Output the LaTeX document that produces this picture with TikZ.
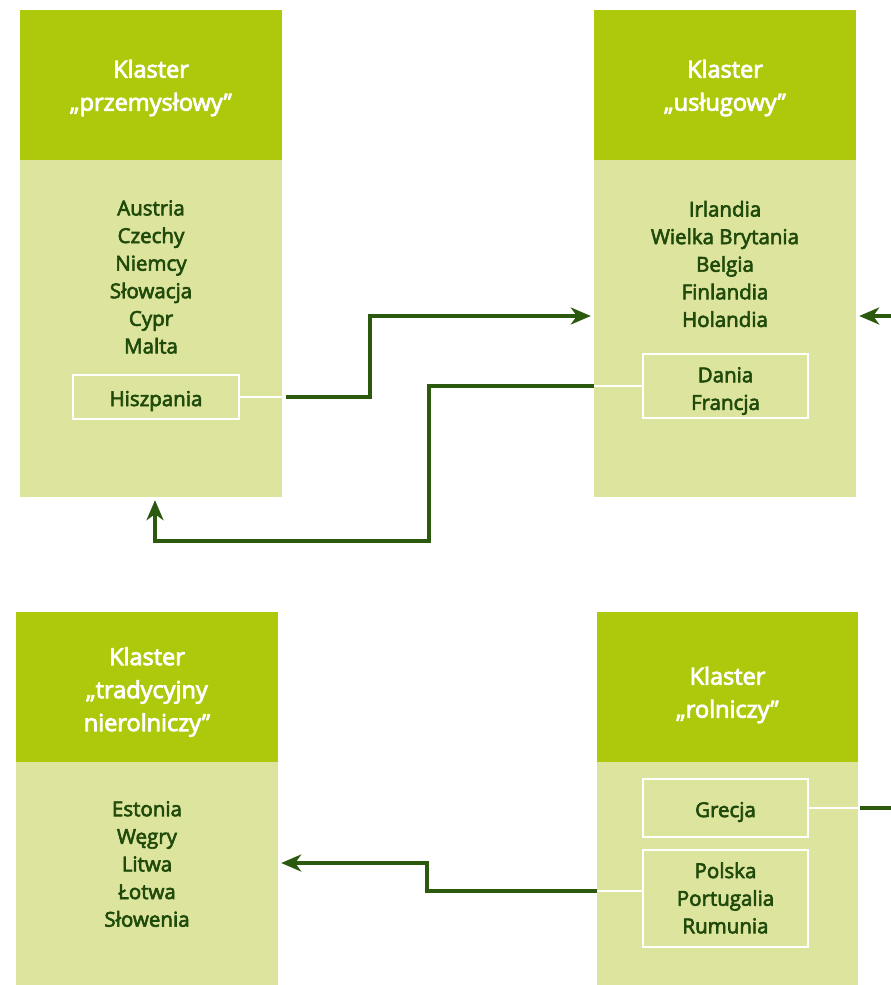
\documentclass[tikz,border=0pt]{standalone}
\usepackage{fontspec}
\setmainfont{Open Sans}
\newfontfamily\hdrfont[FakeBold=3.5]{Open Sans}
\newfontfamily\lstfont[FakeBold=3]{Open Sans}
\usetikzlibrary{arrows.meta}
\definecolor{hdr}{HTML}{AEC90B}
\definecolor{bodyc}{HTML}{DCE49E}
\definecolor{txt}{HTML}{1F4A0A}
\definecolor{arr}{HTML}{2B5A0E}
\begin{document}
\begin{tikzpicture}[x=1pt,y=-1pt,
  hdrbox/.style={fill=hdr, minimum width=262pt, minimum height=150pt, inner sep=0pt},
  hdrtxt/.style={text=white, font=\hdrfont\fontsize{23.5}{33}\selectfont, align=center, inner sep=0pt},
  bodybox/.style={fill=bodyc, minimum width=262pt, inner sep=0pt},
  listtxt/.style={text=txt, font=\lstfont\fontsize{20.5}{27.6}\selectfont, align=center, inner sep=0pt},
  subbox/.style={draw=white, line width=2pt, minimum width=166pt, inner sep=0pt},
  wline/.style={white, line width=2pt},
  connbase/.style={arr, line width=3.2pt},
  conn/.style={connbase, -{Stealth[length=20pt,width=17pt,inset=6pt]}, shorten >=3pt}]
\useasboundingbox (0,0) rectangle (891,985);
\fill[white] (0,0) rectangle (891,985);

% top-left cluster
\node[hdrbox] (h1) at (151,85) {};
\node[hdrtxt] (t1) at (151,88) {Klaster\\„przemysłowy”};
\node[bodybox, minimum height=337pt] (b1) at (151,328.5) {};
\node[listtxt] (l1) at (151,277) {Austria\\Czechy\\Niemcy\\Słowacja\\Cypr\\Malta};
\node[subbox, minimum height=44pt] (hisz) at (156,397) {};
\node[listtxt] (thisz) at (156,401) {Hiszpania};

% top-right cluster
\node[hdrbox] (h2) at (725,85) {};
\node[hdrtxt] (t2) at (725,88) {Klaster\\„usługowy”};
\node[bodybox, minimum height=337pt] (b2) at (725,328.5) {};
\node[listtxt] (l2) at (725,264) {Irlandia\\Wielka Brytania\\Belgia\\Finlandia\\Holandia};
\node[subbox, minimum width=165pt, minimum height=64pt] (dan) at (725.5,386) {};
\node[listtxt] (tdan) at (725.5,391) {Dania\\Francja};

% bottom-left cluster
\node[hdrbox] (h3) at (147,687) {};
\node[hdrtxt] (t3) at (147,692) {Klaster\\„tradycyjny\\nierolniczy”};
\node[bodybox, minimum height=223pt] (b3) at (147,873.5) {};
\node[listtxt] (l3) at (147,864) {Estonia\\Węgry\\Litwa\\Łotwa\\Słowenia};

% bottom-right cluster
\node[hdrbox, minimum width=261pt] (h4) at (727.5,687) {};
\node[hdrtxt] (t4) at (727.5,695) {Klaster\\„rolniczy”};
\node[bodybox, minimum width=261pt, minimum height=223pt] (b4) at (727.5,873.5) {};
\node[subbox, minimum width=165pt, minimum height=58pt] (gre) at (725.5,808) {};
\node[listtxt] (tgre) at (725.5,812) {Grecja};
\node[subbox, minimum width=165pt, minimum height=97pt] (pol) at (725.5,898.5) {};
\node[listtxt] (tpol) at (725.5,898) {Polska\\Portugalia\\Rumunia};

% connector 1: Hiszpania -> uslugowy
\draw[wline] (hisz.east) -- (hisz.east -| b1.east);
\coordinate (k1) at (370,316);
\draw[conn] ([xshift=4pt]hisz.east -| b1.east) -| (k1) -- (b2.west |- k1);

% connector 2: Dania/Francja -> przemyslowy
\draw[wline] (dan.west) -- (dan.west -| b2.west);
\coordinate (k2) at (429,541);
\draw[conn] (dan.west -| b2.west) -| (k2) -| ([xshift=4pt]b1.south);

% connector 3: from right edge -> uslugowy
\coordinate (e3) at (891,316);
\draw[conn] (e3) -- (b2.east |- e3);

% connector 4: Grecja -> right edge
\draw[wline] (gre.east) -- (gre.east -| b4.east);
\coordinate (e4) at (891,808);
\draw[connbase] ([xshift=2pt]gre.east -| b4.east) -- (e4);

% connector 5: Polska/Portugalia/Rumunia -> tradycyjny
\coordinate (p5) at ([yshift=7.5pt]pol.west);
\draw[wline] (p5) -- (p5 -| b4.west);
\coordinate (k5) at (427,863);
\draw[conn] (p5 -| b4.west) -| (k5) -- (b3.east |- k5);
\end{tikzpicture}
\end{document}
